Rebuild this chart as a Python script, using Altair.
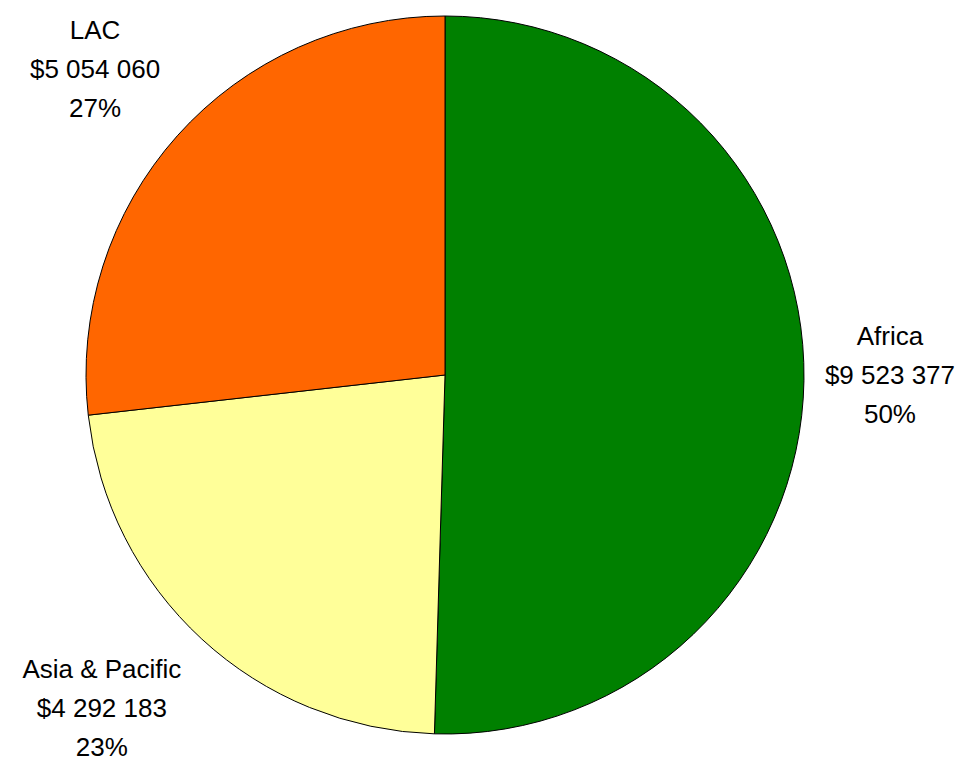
import altair as alt
import pandas as pd

regions = ["Africa", "Asia & Pacific", "LAC"]
amounts = [9523377, 4292183, 5054060]
amount_labels = ["$9 523 377", "$4 292 183", "$5 054 060"]
pct_labels = ["50%", "23%", "27%"]
colors = ["#008000", "#FFFF99", "#FF6600"]

df = pd.DataFrame({
    "region": regions,
    "amount": amounts,
    "idx": list(range(len(regions))),
    "label": [f"{r}\n{a}\n{p}" for r, a, p in zip(regions, amount_labels, pct_labels)],
})

CX, CY = 437, 367
LINE_H = 39
# label placement style: polar radius and small nudges per label
label_style = {
    "Africa": (446, -1, -6),
    "Asia & Pacific": (483, -16, -21),
    "LAC": (464, -4, 4),
}

base = alt.Chart(df)

pie = base.mark_arc(stroke="black", strokeWidth=1, radius=359).encode(
    theta=alt.Theta("amount:Q", stack=True),
    color=alt.Color("region:N", scale=alt.Scale(domain=regions, range=colors), legend=None),
    order=alt.Order("idx:Q"),
    x=alt.value(CX),
    y=alt.value(CY),
)

layers = [pie]
for r in regions:
    rad, ddx, ddy = label_style[r]
    t = base.mark_text(
        font="Liberation Sans", fontSize=26, lineHeight=LINE_H, lineBreak="\n",
        align="center", baseline="middle", color="black",
        radius=rad, dx=ddx, dy=ddy - LINE_H,
    ).encode(
        theta=alt.Theta("amount:Q", stack=True),
        order=alt.Order("idx:Q"),
        text="label:N",
        x=alt.value(CX),
        y=alt.value(CY),
        opacity=alt.condition(alt.datum.region == r, alt.value(1), alt.value(0)),
    )
    layers.append(t)

chart = alt.layer(*layers).properties(
    width=949, height=752,
    autosize=alt.AutoSizeParams(type="none"),
    padding=0,
).configure_view(stroke=None)

chart.save("out.html", embed_options={"renderer": "svg", "actions": False})
